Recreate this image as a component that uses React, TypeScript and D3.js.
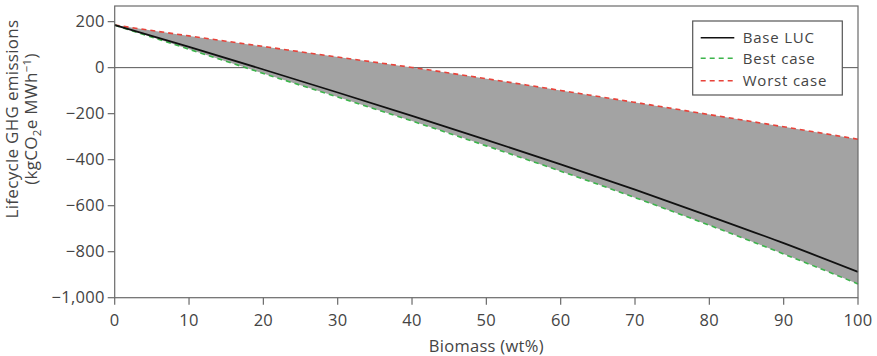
import React from "react";
import * as d3 from "d3";

const biomass = [0, 10, 20, 30, 40, 50, 60, 70, 80, 90, 100];
const baseLUC = [185, 90, -8, -108, -210, -314, -420, -530, -645, -763, -888];
const bestCase = [185, 80, -25, -128, -232, -340, -450, -565, -685, -810, -940];
const worstCase = [185, 138, 92, 46, 1, -48, -99, -151, -204, -257, -311];
const xTicks = [0, 10, 20, 30, 40, 50, 60, 70, 80, 90, 100];
const yTicks = [200, 0, -200, -400, -600, -800, -1000];
const legendLabels = ["Base LUC", "Best case", "Worst case"];

const W = 877;
const H = 356;
const FONT = "'Open Sans', Lato, sans-serif";

export default function App() {
  const x = d3.scaleLinear().domain([0, 100]).range([114.7, 858]);
  const y = d3.scaleLinear().domain([-1000, 268]).range([297.7, 6]);
  const fmt = d3.format(",");

  const pts = (vals: number[]) => biomass.map((b, i) => [b, vals[i]] as [number, number]);
  const line = d3
    .line<[number, number]>()
    .x((d) => x(d[0]))
    .y((d) => y(d[1]))
    .curve(d3.curveMonotoneX);
  const area = d3
    .area<number>()
    .x((_, i) => x(biomass[i]))
    .y0((_, i) => y(bestCase[i]))
    .y1((_, i) => y(worstCase[i]))
    .curve(d3.curveMonotoneX);
  const idx = biomass.map((_, i) => i);

  const axisColor = "#6a6a6a";
  const textColor = "#444";
  const fs = 16.5;
  const ls = 0.3;

  const legendX = 692.7;
  const legendY = 21;
  const legendRows = [37.7, 58.3, 80.7];
  const legendStyles = [
    { stroke: "#111", dash: undefined as string | undefined },
    { stroke: "#3cb44b", dash: "5,4" },
    { stroke: "#e8433a", dash: "5,4" },
  ];

  return (
    <svg
      width={W}
      height={H}
      style={{ position: "absolute", left: 0, top: 0, background: "#fff" }}
      fontFamily={FONT}
    >
      {/* zero line */}
      <line x1={x(0)} x2={x(100)} y1={y(0)} y2={y(0)} stroke="#555" strokeWidth={1} />
      {/* range fill */}
      <path d={area(idx) || ""} fill="#a3a3a3" stroke="none" />
      {/* lines */}
      <path d={line(pts(worstCase)) || ""} fill="none" stroke="#e8433a" strokeWidth={1.6} strokeDasharray="5,4" />
      <path d={line(pts(bestCase)) || ""} fill="none" stroke="#3cb44b" strokeWidth={1.6} strokeDasharray="5,4" />
      <path d={line(pts(baseLUC)) || ""} fill="none" stroke="#111" strokeWidth={1.8} />

      {/* frame */}
      <rect
        x={x(0)}
        y={y(268)}
        width={x(100) - x(0)}
        height={y(-1000) - y(268)}
        fill="none"
        stroke={axisColor}
        strokeWidth={1.2}
      />

      {/* y ticks */}
      {yTicks.map((t) => (
        <g key={"y" + t}>
          <line x1={x(0) - 7} x2={x(0)} y1={y(t)} y2={y(t)} stroke={axisColor} strokeWidth={1.2} />
          <text
            x={x(0) - 10}
            y={y(t)}
            dy="0.35em"
            textAnchor="end"
            fontSize={fs}
            letterSpacing={ls}
            fill={textColor}
          >
            {fmt(t)}
          </text>
        </g>
      ))}

      {/* x ticks */}
      {xTicks.map((t) => (
        <g key={"x" + t}>
          <line x1={x(t)} x2={x(t)} y1={y(-1000)} y2={y(-1000) + 7} stroke={axisColor} strokeWidth={1.2} />
          <text x={x(t)} y={326} textAnchor="middle" fontSize={fs} letterSpacing={ls} fill={textColor}>
            {t}
          </text>
        </g>
      ))}

      {/* x label */}
      <text x={x(50)} y={352} textAnchor="middle" fontSize={fs} letterSpacing={ls} fill={textColor}>
        Biomass (wt%)
      </text>

      {/* y label */}
      <text transform="translate(18,119) rotate(-90)" textAnchor="middle" fontSize={17} letterSpacing={ls} fill={textColor}>
        Lifecycle GHG emissions
      </text>
      <text transform="translate(37,119) rotate(-90)" textAnchor="middle" fontSize={17} letterSpacing={ls} fill={textColor}>
        (kgCO
        <tspan fontSize={11.5} dy={4}>2</tspan>
        <tspan dy={-4}>e MWh</tspan>
        <tspan fontSize={11.5} dy={-6}>−1</tspan>
        <tspan dy={6}>)</tspan>
      </text>

      {/* legend */}
      <rect x={legendX} y={legendY} width={149.6} height={74} fill="#fff" stroke="#555" strokeWidth={1.2} />
      {legendLabels.map((lab, i) => (
        <g key={lab}>
          <line
            x1={700.7}
            x2={734.3}
            y1={legendRows[i]}
            y2={legendRows[i]}
            stroke={legendStyles[i].stroke}
            strokeWidth={1.6}
            strokeDasharray={legendStyles[i].dash}
          />
          <text x={742.7} y={legendRows[i]} dy="0.35em" fontSize={15} letterSpacing={0.8} fill={textColor}>
            {lab}
          </text>
        </g>
      ))}
    </svg>
  );
}
